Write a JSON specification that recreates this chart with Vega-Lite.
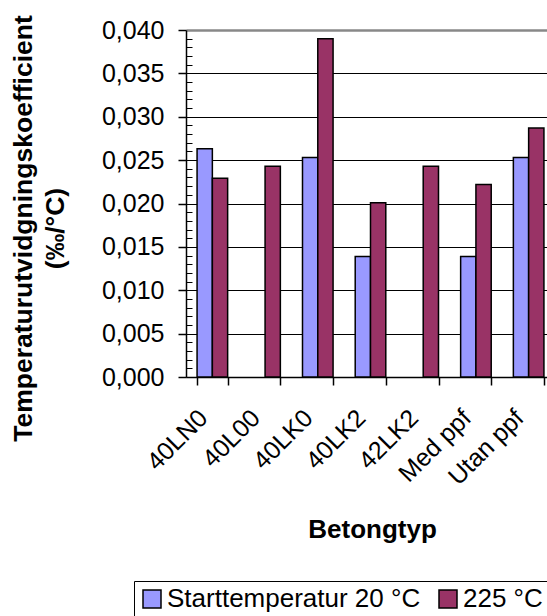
{
  "$schema": "https://vega.github.io/schema/vega-lite/v6.json",
  "width": 361,
  "height": 347,
  "autosize": {"type": "none"},
  "padding": {"left": 186, "top": 30, "right": 0, "bottom": 239},
  "background": "white",
  "config": {"view": {"stroke": null}, "font": "Liberation Sans"},
  "data": {
    "values": [
      {"typ": "40LN0", "serie": "Starttemperatur 20 °C", "v": 0.0263},
      {"typ": "40LN0", "serie": "225 °C", "v": 0.0229},
      {"typ": "40L00", "serie": "225 °C", "v": 0.0243},
      {"typ": "40LK0", "serie": "Starttemperatur 20 °C", "v": 0.0253},
      {"typ": "40LK0", "serie": "225 °C", "v": 0.0390},
      {"typ": "40LK2", "serie": "Starttemperatur 20 °C", "v": 0.0139},
      {"typ": "40LK2", "serie": "225 °C", "v": 0.0201},
      {"typ": "42LK2", "serie": "225 °C", "v": 0.0243},
      {"typ": "Med ppf", "serie": "Starttemperatur 20 °C", "v": 0.0139},
      {"typ": "Med ppf", "serie": "225 °C", "v": 0.0222},
      {"typ": "Utan ppf", "serie": "Starttemperatur 20 °C", "v": 0.0253},
      {"typ": "Utan ppf", "serie": "225 °C", "v": 0.0287}
    ]
  },
  "resolve": {"axis": {"y": "independent"}},
  "layer": [
    {
      "mark": {"type": "bar", "stroke": "black", "strokeWidth": 1.5},
      "encoding": {
        "x": {
          "field": "typ", "type": "nominal",
          "sort": ["40LN0", "40L00", "40LK0", "40LK2", "42LK2", "Med ppf", "Utan ppf"],
          "scale": {"range": [0, 369], "paddingInner": 0.42, "paddingOuter": 0.21},
          "axis": {
            "title": "Betongtyp", "titleFontSize": 26, "titleFontWeight": "bold", "titleColor": "black",
            "titleX": 186, "titleY": 160, "titleBaseline": "alphabetic", "titleAlign": "center",
            "labelAngle": -45, "labelAlign": "right", "labelBaseline": "top",
            "labelFontSize": 25, "labelColor": "black", "labelOffset": -18, "labelPadding": 20,
            "tickBand": "extent", "tickSize": 8, "tickColor": "black", "tickWidth": 1.5,
            "domainColor": "black", "domainWidth": 1.5, "grid": false
          }
        },
        "xOffset": {
          "field": "serie", "type": "nominal",
          "sort": ["Starttemperatur 20 °C", "225 °C"]
        },
        "y": {
          "field": "v", "type": "quantitative",
          "scale": {"domain": [0, 0.04], "nice": false},
          "axis": {
            "values": [0, 0.005, 0.01, 0.015, 0.02, 0.025, 0.03, 0.035, 0.04],
            "labelExpr": "replace(format(datum.value, '.3f'), '.', ',')",
            "labelFontSize": 25, "labelColor": "black", "labelPadding": 14,
            "tickSize": 8, "tickColor": "black", "tickWidth": 1.5,
            "domainColor": "black", "domainWidth": 1.5,
            "grid": true,
            "gridColor": {"condition": {"test": "datum.value >= 0.04", "value": "#888888"}, "value": "black"},
            "gridWidth": {"condition": {"test": "datum.value >= 0.04", "value": 2.5}, "value": 1.2},
            "title": ["Temperaturutvidgningskoefficient", "(‰/°C)"],
            "titleFontSize": 26.5, "titleFontWeight": "bold", "titleColor": "black",
            "titleAngle": -90, "titleX": -176, "titleY": 198,
            "titleAlign": "center", "titleBaseline": "top", "titleLineHeight": 32
          }
        },
        "color": {
          "field": "serie", "type": "nominal",
          "sort": ["Starttemperatur 20 °C", "225 °C"],
          "scale": {"range": ["#9999FF", "#993366"]},
          "legend": {
            "title": null, "orient": "none", "direction": "horizontal",
            "legendX": -52, "legendY": 551,
            "symbolType": "square", "symbolSize": 324,
            "symbolStrokeColor": "black", "symbolStrokeWidth": 1.5, "symbolOpacity": 1,
            "labelFontSize": 26, "labelColor": "black", "labelOffset": 2, "labelLimit": 0,
            "columnPadding": 14, "padding": 5,
            "strokeColor": "black"
          }
        }
      }
    },
    {
      "mark": {"type": "tick", "opacity": 0},
      "encoding": {
        "y": {
          "field": "v", "type": "quantitative",
          "axis": {
            "orient": "left", "offset": -6,
            "values": [0.001, 0.002, 0.003, 0.004, 0.006, 0.007, 0.008, 0.009, 0.011, 0.012, 0.013, 0.014, 0.016, 0.017, 0.018, 0.019, 0.021, 0.022, 0.023, 0.024, 0.026, 0.027, 0.028, 0.029, 0.031, 0.032, 0.033, 0.034, 0.036, 0.037, 0.038, 0.039],
            "labels": false, "title": null, "grid": false, "domain": false,
            "tickSize": 6, "tickColor": "black", "tickWidth": 1
          }
        }
      }
    }
  ]
}
